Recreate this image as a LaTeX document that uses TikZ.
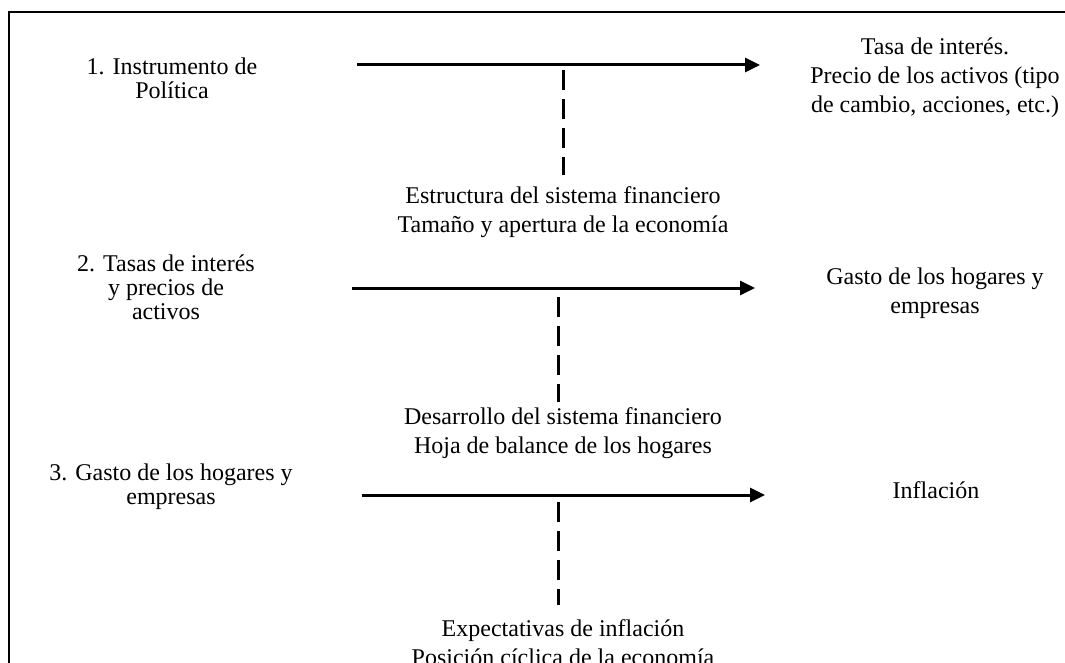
\documentclass[tikz,border=0pt]{standalone}
\usepackage{fontspec}
\setmainfont{Liberation Serif}
\usetikzlibrary{arrows.meta}
\begin{document}
\begin{tikzpicture}[x=1pt,y=-1pt,
  lbl/.style={align=center,inner sep=0pt,font=\fontsize{24}{29}\selectfont},
  lbll/.style={align=center,inner sep=0pt,font=\fontsize{24}{24}\selectfont},
  arr/.style={line width=3pt,-{Triangle[length=15pt,width=14pt]}},
  dashln/.style={line width=3pt,dash pattern=on 20pt off 9pt}]
\useasboundingbox (0,0) rectangle (1065,663);
\clip (0,0) rectangle (1065,663);
\fill[white] (0,0) rectangle (1065,663);
\draw[line width=1.8pt] (9,12) rectangle (1120,720);
% left labels
\node[lbll] (l1) at (172,78) {1. Instrumento de\\Política};
\node[lbll] (l2) at (166,287) {2. Tasas de interés\\y precios de\\activos};
\node[lbll] (l3) at (171,487) {3. Gasto de los hogares y\\empresas};
% right labels
\node[lbl] (r1) at (935,78) {Tasa de interés.\\Precio de los activos (tipo\\de cambio, acciones, etc.)};
\node[lbl] (r2) at (935,293) {Gasto de los hogares y\\empresas};
\node[lbl] (r3) at (936,490) {Inflación};
% middle labels
\node[lbl] (m1) at (563,212) {Estructura del sistema financiero\\Tamaño y apertura de la economía};
\node[lbl] (m2) at (563,433) {Desarrollo del sistema financiero\\Hoja de balance de los hogares};
\node[lbl] (m3) at (563,643) {Expectativas de inflación\\Posición cíclica de la economía};
% arrow end points
\coordinate (a1s) at (357,65);  \coordinate (a1e) at (760,65);
\coordinate (a2s) at (352,288); \coordinate (a2e) at (755,288);
\coordinate (a3s) at (362,495); \coordinate (a3e) at (765,495);
\draw[arr] (a1s) -- (a1e);
\draw[arr] (a2s) -- (a2e);
\draw[arr] (a3s) -- (a3e);
% dashed links
\coordinate (d1s) at (563,70);  \coordinate (d1e) at (563,175);
\coordinate (d2s) at (558,297); \coordinate (d2e) at (558,402);
\coordinate (d3s) at (558,502); \coordinate (d3e) at (558,605);
\draw[dashln] (d1s) -- (d1e);
\draw[dashln] (d2s) -- (d2e);
\draw[dashln] (d3s) -- (d3e);
\end{tikzpicture}
\end{document}
